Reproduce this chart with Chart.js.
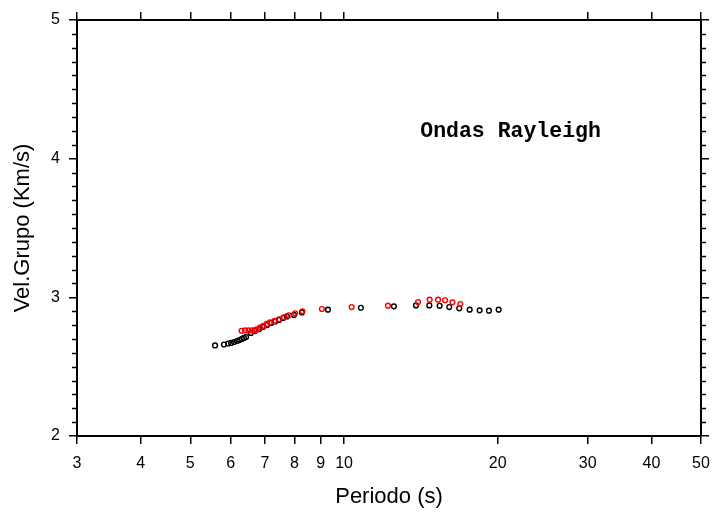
<!DOCTYPE html>
<html>
<head>
<meta charset="utf-8">
<script src="https://cdn.jsdelivr.net/npm/chart.js@4/dist/chart.umd.min.js"></script>
<style>
  html, body { margin: 0; padding: 0; background: #fff; }
  #wrap { width: 717px; height: 517px; }
</style>
</head>
<body>
<div id="wrap"><canvas id="chart" width="717" height="517"></canvas></div>
<script>
"use strict";

// periodo (s) / velocidad de grupo (km/s)
const blackPeriod = [5.59, 5.82, 5.93, 6.01, 6.09, 6.17, 6.24, 6.31, 6.37, 6.43, 6.57, 6.69, 6.82, 6.94,
    7.07, 7.20, 7.33, 7.46, 7.60, 7.73, 7.98, 8.27, 9.30, 10.79, 12.52, 13.83, 14.69, 15.39, 16.07,
    16.81, 17.62, 18.43, 19.22, 20.08];
const blackVel = [2.653, 2.660, 2.667, 2.671, 2.678, 2.685, 2.692, 2.700, 2.707, 2.714, 2.743, 2.757, 2.770, 2.786,
    2.800, 2.815, 2.826, 2.837, 2.851, 2.862, 2.873, 2.891, 2.911, 2.925, 2.935, 2.942, 2.942, 2.939, 2.930,
    2.921, 2.911, 2.906, 2.904, 2.911];

const redPeriod = [6.30, 6.40, 6.50, 6.60, 6.69, 6.74, 6.85, 6.95, 7.06, 7.16, 7.30, 7.46, 7.63, 7.80,
    8.02, 8.29, 9.05, 10.35, 12.19, 13.96, 14.71, 15.28, 15.77, 16.30, 16.89];
const redVel = [2.759, 2.761, 2.761, 2.761, 2.764, 2.769, 2.784, 2.795, 2.808, 2.820, 2.829, 2.842, 2.856, 2.870,
    2.885, 2.899, 2.916, 2.930, 2.940, 2.966, 2.983, 2.983, 2.979, 2.964, 2.952];

const xTicks = [3, 4, 5, 6, 7, 8, 9, 10, 20, 30, 40, 50];
const yTicks = [2, 3, 4, 5];
const labelText = 'Ondas Rayleigh';
const labelPos = [14.1, 4.155];

const toPoints = (xs, ys) => xs.map((v, i) => ({ x: v, y: ys[i] }));
const setXTicks = scale => { scale.ticks = xTicks.map(v => ({ value: v })); };
const setYTicks = scale => { scale.ticks = yTicks.map(v => ({ value: v })); };

const FONT = "'Liberation Sans', Arial, Helvetica, sans-serif";

// rayitas menores del eje Y (cada 0.1) y el texto del grafico
const extras = {
    id: 'extras',
    afterDraw(chart) {
        const ctx = chart.ctx;
        const y = chart.scales.y;
        const a = chart.chartArea;
        ctx.save();
        ctx.strokeStyle = '#000';
        ctx.lineWidth = 1.5;
        ctx.beginPath();
        for (let i = 1; i < 30; i++) {
            if (i % 10 === 0) continue;
            const py = Math.round(y.getPixelForValue(2 + i / 10)) + 0.5;
            ctx.moveTo(a.left - 5, py); ctx.lineTo(a.left, py);
            ctx.moveTo(a.right, py); ctx.lineTo(a.right + 5, py);
        }
        ctx.stroke();

        ctx.fillStyle = '#000';
        ctx.font = "bold 21.5px 'Liberation Mono', 'Courier New', monospace";
        ctx.textBaseline = 'alphabetic';
        ctx.textAlign = 'left';
        ctx.fillText(labelText, chart.scales.x.getPixelForValue(labelPos[0]), y.getPixelForValue(labelPos[1]));
        ctx.restore();
    }
};

const axisGrid = { drawOnChartArea: false, color: '#000', lineWidth: 1.5, tickLength: 8 };
const axisBorder = { color: '#000', width: 2 };

new Chart(document.getElementById('chart'), {
    type: 'scatter',
    data: {
        datasets: [
            {
                label: 'rojo',
                data: toPoints(redPeriod, redVel),
                order: 0,
                pointStyle: 'circle',
                pointRadius: 2.4,
                pointBorderWidth: 1.4,
                borderColor: '#ff0000',
                backgroundColor: 'rgba(0,0,0,0)'
            },
            {
                label: 'negro',
                data: toPoints(blackPeriod, blackVel),
                order: 1,
                pointStyle: 'circle',
                pointRadius: 2.4,
                pointBorderWidth: 1.4,
                borderColor: '#000000',
                backgroundColor: 'rgba(0,0,0,0)'
            }
        ]
    },
    options: {
        responsive: false,
        animation: false,
        events: [],
        layout: { padding: 0 },
        plugins: { legend: { display: false }, tooltip: { enabled: false } },
        scales: {
            x: {
                type: 'logarithmic', position: 'bottom', min: 3, max: 50,
                afterBuildTicks: setXTicks,
                afterFit: s => { s.height = 81; s.paddingLeft = 0; s.paddingRight = 0; },
                grid: axisGrid, border: axisBorder,
                ticks: { color: '#000', font: { family: FONT, size: 16 }, padding: 10, maxRotation: 0, autoSkip: false,
                    callback: v => String(v) },
                title: { display: true, text: 'Periodo (s)', color: '#000', font: { family: FONT, size: 22 },
                    padding: { top: 0, bottom: 7 } }
            },
            x2: {
                type: 'logarithmic', position: 'top', min: 3, max: 50,
                afterBuildTicks: setXTicks,
                afterFit: s => { s.height = 20; s.paddingLeft = 0; s.paddingRight = 0; },
                grid: axisGrid, border: axisBorder,
                ticks: { display: false }
            },
            y: {
                type: 'linear', position: 'left', min: 2, max: 5,
                afterBuildTicks: setYTicks,
                afterFit: s => { s.width = 77; s.paddingTop = 0; s.paddingBottom = 0; },
                grid: axisGrid, border: axisBorder,
                ticks: { color: '#000', font: { family: FONT, size: 16 }, padding: 9 },
                title: { display: true, text: 'Vel.Grupo (Km/s)', color: '#000', font: { family: FONT, size: 22 },
                    padding: { top: 10, bottom: 0 } }
            },
            y2: {
                type: 'linear', position: 'right', min: 2, max: 5,
                afterBuildTicks: setYTicks,
                afterFit: s => { s.width = 16; s.paddingTop = 0; s.paddingBottom = 0; },
                grid: axisGrid, border: axisBorder,
                ticks: { display: false }
            }
        }
    },
    plugins: [extras]
});
</script>
</body>
</html>
